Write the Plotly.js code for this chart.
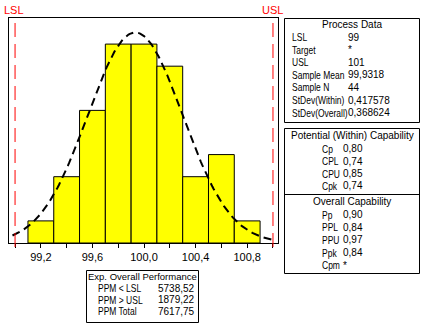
<!DOCTYPE html>
<html>
<head>
<meta charset="utf-8">
<script src="https://cdn.plot.ly/plotly-3.0.1.min.js"></script>
<style>html,body{margin:0;padding:0;background:#fff;}#chart{width:422px;height:327px;}</style>
</head>
<body>
<div id="chart"></div>
<script>
// ---- data ----
const binCenters = [99.2, 99.4, 99.6, 99.8, 100.0, 100.2, 100.4, 100.6, 100.8];
const counts = [1, 3, 6, 9, 9, 8, 3, 4, 1];
const binWidth = 0.2;
const LSL = 99, USL = 101;
const sampleMean = 99.9318;
const sampleN = 44;
const stdevOverall = 0.368624;
const tickValues = [99.0, 99.2, 99.4, 99.6, 99.8, 100.0, 100.2, 100.4, 100.6, 100.8, 101.0];
const tickLabels = ['', '99,2', '', '99,6', '', '100,0', '', '100,4', '', '100,8', ''];
const processLabels = ['LSL', 'Target', 'USL', 'Sample Mean', 'Sample N', 'StDev(Within)', 'StDev(Overall)'];
const processValues = ['99', '*', '101', '99,9318', '44', '0,417578', '0,368624'];
const potentialLabels = ['Cp', 'CPL', 'CPU', 'Cpk'];
const potentialValues = ['0,80', '0,74', '0,85', '0,74'];
const overallLabels = ['Pp', 'PPL', 'PPU', 'Ppk', 'Cpm'];
const overallValues = ['0,90', '0,84', '0,97', '0,84', '*'];
const perfLabels = ['PPM < LSL', 'PPM > USL', 'PPM Total'];
const perfValues = ['5738,52', '1879,22', '7617,75'];

// fitted normal curve (overall) scaled to counts, from the stated mean / stdev
const curveX = [], curveY = [];
for (let i = 0; i <= 204; i++) {
  const x = 98.98 + i * 0.01;
  const z = (x - sampleMean) / stdevOverall;
  curveX.push(x);
  curveY.push(sampleN * binWidth * Math.exp(-0.5 * z * z) / (stdevOverall * Math.sqrt(2 * Math.PI)));
}

// ---- layout helpers (pixel -> paper) ----
const W = 422, H = 327, L = 9, R = 278, T = 18, B = 243;
const px = v => (v - L) / (R - L);
const py = v => (B - v) / (B - T);
const FONT = 'Liberation Sans, Arial, sans-serif';

const shapes = [
  {type: 'line', xref: 'x', yref: 'paper', x0: LSL, x1: LSL, y0: py(247), y1: 1, layer: 'above',
   line: {color: '#ff0000', width: 1, dash: '14px,7px'}},
  {type: 'line', xref: 'x', yref: 'paper', x0: USL, x1: USL, y0: py(247), y1: 1, layer: 'above',
   line: {color: '#ff0000', width: 1, dash: '14px,7px'}},
  // Process data box
  {type: 'rect', xref: 'paper', yref: 'paper', x0: px(284.5), x1: px(419.5), y0: py(18.5), y1: py(122.5),
   line: {color: '#000', width: 1}},
  // Capability box
  {type: 'rect', xref: 'paper', yref: 'paper', x0: px(284.5), x1: px(419.5), y0: py(128.5), y1: py(273.5),
   line: {color: '#000', width: 1}},
  {type: 'line', xref: 'paper', yref: 'paper', x0: px(284.5), x1: px(419.5), y0: py(194.5), y1: py(194.5),
   line: {color: '#000', width: 1}},
  // Performance box
  {type: 'rect', xref: 'paper', yref: 'paper', x0: px(86.5), x1: px(198.5), y0: py(270.5), y1: py(322.5),
   line: {color: '#000', width: 1}}
];

const annotations = [];
const tall = []; // annotation indices drawn in a small size, stretched vertically (narrow bitmap look)
const LABEL_SIZE = 8.5;
function txt(text, x, y, anchor, size, color, stretch) {
  if (stretch) tall.push(annotations.length);
  annotations.push({text: text, xref: 'paper', yref: 'paper', x: px(x), y: py(y),
    xanchor: anchor, yanchor: 'middle', showarrow: false, borderpad: 0,
    font: {family: FONT, size: size || 10, color: color || '#000'}});
}
txt('LSL', 14, 10.5, 'center', 11, '#ff0000');
txt('USL', 272.5, 10.5, 'center', 11, '#ff0000');

txt('Process Data', 352, 24.4, 'center', 10, '#000');
processLabels.forEach((s, i) => { txt(s, 290.5, 37 + i * 12.6, 'left', LABEL_SIZE, '#000', true); txt(processValues[i], 347, 37 + i * 12.6, 'left'); });
txt('Potential (Within) Capability', 352, 135.5, 'center');
potentialLabels.forEach((s, i) => { txt(s, 320.5, 148.5 + i * 12.5, 'left', LABEL_SIZE, '#000', true); txt(potentialValues[i], 342, 148.5 + i * 12.5, 'left'); });
txt('Overall Capability', 352, 201, 'center');
overallLabels.forEach((s, i) => { txt(s, 320.5, 214.5 + i * 12.7, 'left', LABEL_SIZE, '#000', true); txt(overallValues[i], 342, 214.5 + i * 12.7, 'left'); });
txt('Exp. Overall Performance', 142.5, 276.5, 'center', 9.5);
perfLabels.forEach((s, i) => { txt(s, 96.5, 288 + i * 11.5, 'left', LABEL_SIZE, '#000', true); txt(perfValues[i], 156.5, 288 + i * 11.5, 'left'); });

const data = [
  {type: 'bar', x: binCenters, y: counts, width: binWidth,
   marker: {color: '#ffff00', line: {color: '#000', width: 1}}, hoverinfo: 'skip'},
  {type: 'scatter', mode: 'lines', x: curveX, y: curveY,
   line: {color: '#000', width: 2, dash: '8px,5px'}, hoverinfo: 'skip'}
];

const layout = {
  width: W, height: H,
  margin: {l: L, r: W - R, t: T, b: H - B, pad: 0},
  paper_bgcolor: '#fff', plot_bgcolor: '#fff',
  showlegend: false, bargap: 0,
  font: {family: FONT, size: 11, color: '#000'},
  xaxis: {range: [98.953, 101.039], tickvals: tickValues, ticktext: tickLabels,
    ticks: 'outside', ticklen: 4, tickcolor: '#000', tickwidth: 1,
    showline: true, mirror: true, linecolor: '#000', linewidth: 1,
    showgrid: false, zeroline: false, tickfont: {family: FONT, size: 11, color: '#000'}},
  yaxis: {range: [0, 10.18], showticklabels: false, ticks: '',
    showline: true, mirror: true, linecolor: '#000', linewidth: 1,
    showgrid: false, zeroline: false},
  shapes: shapes,
  annotations: annotations
};

Plotly.newPlot('chart', data, layout, {staticPlot: true, displayModeBar: false}).then(gd => {
  // the reference's row labels are a narrow bitmap font: stretch the small labels vertically
  try {
    const groups = gd.querySelectorAll('g.annotation');
    const s = 1.18;
    tall.forEach(idx => {
      const g = groups[idx];
      if (!g) return;
      const t = g.querySelector('text.annotation-text');
      if (!t) return;
      const b = t.getBBox();
      const cy = b.y + b.height / 2;
      const prev = t.getAttribute('transform') || '';
      t.setAttribute('transform', prev + ' translate(0 ' + cy.toFixed(2) + ') scale(1 ' + s + ') translate(0 ' + (-cy).toFixed(2) + ')');
    });
  } catch (e) { /* keep plain labels */ }
});
</script>
</body>
</html>
